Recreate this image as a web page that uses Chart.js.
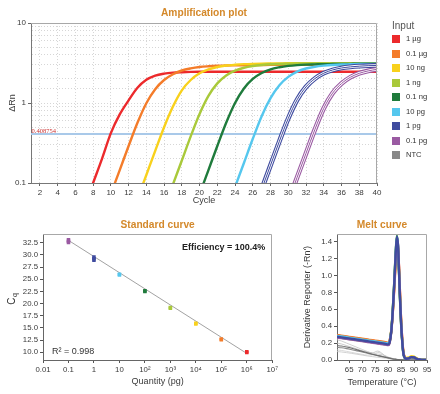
<!DOCTYPE html>
<html>
<head>
<meta charset="utf-8">
<script src="https://cdn.jsdelivr.net/npm/chart.js"></script>
<style>
  body { margin: 0; background: #fff; font-family: "Liberation Sans", Arial, sans-serif; }
  #wrap { position: relative; width: 440px; height: 394px; overflow: hidden; }
  canvas { position: absolute; }
  #legend { position: absolute; left: 0; top: 0; color: #333; }
  #legend .ttl { position: absolute; left: 392px; top: 20px; font-size: 10px; color: #555; white-space: nowrap; }
  #legend .box { position: absolute; left: 392px; width: 8px; height: 8px; }
  #legend .lab { position: absolute; left: 406px; font-size: 7.6px; line-height: 10px; white-space: nowrap; }
</style>
</head>
<body>
<div id="wrap">
  <canvas id="amp" width="440" height="210" style="left:0;top:0"></canvas>
  <canvas id="std" width="280" height="184" style="left:0;top:210px"></canvas>
  <canvas id="melt" width="160" height="184" style="left:280px;top:210px"></canvas>
  <div id="legend"></div>
</div>
<script>
// samples (legend order)
const sampleNames = ["1 µg", "0.1 µg", "10 ng", "1 ng", "0.1 ng", "10 pg", "1 pg", "0.1 pg", "NTC"];
const sampleColors = ["#ec2a2c", "#f47c2a", "#f8d11c", "#a9c93a", "#1f7b3c", "#55c7ee", "#3f4b9f", "#9a5aa2", "#888888"];

// amplification plot, ΔRn per cycle
const cycles = [1,2,3,4,5,6,7,8,9,10,11,12,13,14,15,16,17,18,19,20,21,22,23,24,25,26,27,28,29,30,31,32,33,34,35,36,37,38,39,40];
const threshold = 0.408754;
const ampRed = [null,null,null,null,null,null,0.05,0.1,0.2,0.42,0.72,1.08,1.55,1.95,2.2,2.33,2.4,2.43,2.45,2.46,2.46,2.46,2.46,2.46,2.46,2.46,2.46,2.46,2.46,2.46,2.46,2.46,2.46,2.46,2.46,2.46,2.46,2.46,2.46,2.46];
const ampOrange = [null,null,null,null,null,null,null,null,null,0.073,0.145,0.29,0.566,0.995,1.49,1.94,2.29,2.55,2.71,2.82,2.88,2.92,2.95,2.96,2.97,2.98,2.99,3.0,3.0,3.0,3.0,3.0,3.0,3.0,3.0,3.0,3.0,3.0,3.0,3.0];
const ampYellow = [null,null,null,null,null,null,null,null,null,null,null,null,0.063,0.126,0.252,0.498,0.903,1.44,1.94,2.35,2.63,2.82,2.94,3.01,3.06,3.09,3.11,3.12,3.13,3.14,3.14,3.14,3.14,3.14,3.15,3.15,3.15,3.15,3.15,3.15];
const ampLgreen = [null,null,null,null,null,null,null,null,null,null,null,null,null,null,null,0.048,0.096,0.191,0.383,0.731,1.23,1.76,2.21,2.54,2.76,2.9,2.99,3.05,3.08,3.1,3.12,3.13,3.14,3.14,3.14,3.14,3.14,3.14,3.14,3.14];
const ampDgreen = [null,null,null,null,null,null,null,null,null,null,null,null,null,null,null,null,null,null,0.036,0.0725,0.145,0.29,0.566,1.0,1.52,2.0,2.37,2.64,2.8,2.91,2.98,3.02,3.04,3.06,3.07,3.08,3.09,3.1,3.1,3.1];
const ampCyan = [null,null,null,null,null,null,null,null,null,null,null,null,null,null,null,null,null,null,null,null,null,null,0.0445,0.0893,0.178,0.357,0.685,1.15,1.67,2.12,2.47,2.7,2.84,2.93,2.99,3.03,3.05,3.07,3.08,3.09];
const ampBlue = [null,null,null,null,null,null,null,null,null,null,null,null,null,null,null,null,null,null,null,null,null,null,null,null,null,0.0416,0.0833,0.167,0.333,0.643,1.1,1.59,2.02,2.36,2.59,2.74,2.83,2.89,2.93,2.95];
const ampPurple = [null,null,null,null,null,null,null,null,null,null,null,null,null,null,null,null,null,null,null,null,null,null,null,null,null,null,null,null,0.0295,0.0589,0.118,0.235,0.467,0.86,1.33,1.75,2.1,2.35,2.52,2.64];
const ampSeries = [ampRed, ampOrange, ampYellow, ampLgreen, ampDgreen, ampCyan, ampBlue, ampPurple];

// standard curve
const stdQty = [1e6, 1e5, 1e4, 1e3, 100, 10, 1, 0.1];
const stdCq = [[9.95, 10.1], [12.55, 12.7], [15.8, 15.95], [19.05, 19.2], [22.5, 22.65], [25.9, 26.05], [28.9, 29.2, 29.55], [32.55, 32.8, 33.1]];
const fitX = [0.1, 1e6];
const fitY = [33.0, 9.75];
const stdTickValues = [0.01, 0.1, 1, 10, 100, 1e3, 1e4, 1e5, 1e6, 1e7];
const stdTickLabels = ["0.01", "0.1", "1", "10", "10²", "10³", "10⁴", "10⁵", "10⁶", "10⁷"];

// melt curve
const meltTemps = [60.3,62,64,66,68,70,72,74,76,78,79,80,80.6,81.2,81.8,82.4,83,83.4,83.8,84.2,84.6,85,85.5,86,87,88,89,90,91,92,93,95];
const meltRed = [0.29,0.283,0.274,0.265,0.256,0.247,0.238,0.229,0.22,0.211,0.206,0.2,0.23,0.34,0.55,0.85,1.18,1.32,1.32,1.12,0.8,0.5,0.24,0.08,0.02,0.022,0.032,0.028,0.014,0.005,0.002,0];
const meltOrange = [0.295,0.288,0.279,0.27,0.261,0.252,0.243,0.234,0.225,0.216,0.211,0.205,0.23,0.35,0.57,0.88,1.22,1.36,1.33,1.1,0.77,0.48,0.22,0.07,0.02,0.025,0.038,0.032,0.016,0.006,0.002,0];
const meltYellow = [0.275,0.268,0.259,0.25,0.241,0.232,0.223,0.214,0.205,0.196,0.191,0.185,0.21,0.33,0.57,0.9,1.25,1.4,1.34,1.08,0.75,0.46,0.21,0.07,0.025,0.03,0.045,0.04,0.02,0.008,0.003,0];
const meltLgreen = [0.28,0.273,0.264,0.255,0.246,0.237,0.228,0.219,0.21,0.201,0.196,0.19,0.22,0.34,0.59,0.93,1.3,1.45,1.36,1.05,0.72,0.44,0.2,0.06,0.015,0.02,0.035,0.03,0.015,0.006,0.002,0];
const meltDgreen = [0.27,0.263,0.254,0.245,0.236,0.227,0.218,0.209,0.2,0.191,0.186,0.18,0.21,0.34,0.6,0.95,1.32,1.47,1.35,1.03,0.7,0.42,0.19,0.055,0.015,0.02,0.033,0.028,0.014,0.005,0.002,0];
const meltCyan = [0.285,0.278,0.269,0.26,0.251,0.242,0.233,0.224,0.215,0.206,0.201,0.195,0.22,0.34,0.58,0.92,1.3,1.45,1.37,1.06,0.73,0.45,0.2,0.06,0.015,0.02,0.034,0.03,0.015,0.006,0.002,0];
const meltBlue = [0.275,0.268,0.259,0.25,0.241,0.232,0.223,0.214,0.205,0.196,0.191,0.185,0.21,0.33,0.58,0.92,1.3,1.46,1.37,1.05,0.72,0.44,0.2,0.06,0.015,0.02,0.034,0.03,0.015,0.006,0.002,0];
const meltPurple = [0.265,0.258,0.249,0.24,0.231,0.222,0.213,0.204,0.195,0.186,0.181,0.175,0.2,0.32,0.55,0.88,1.26,1.42,1.38,1.1,0.76,0.46,0.21,0.065,0.015,0.02,0.034,0.03,0.015,0.006,0.002,0];
const meltSeries = [meltRed, meltOrange, meltYellow, meltLgreen, meltDgreen, meltCyan, meltPurple, meltBlue];
const meltSeriesColors = ["#ec2a2c", "#f47c2a", "#f8d11c", "#a9c93a", "#1f7b3c", "#55c7ee", "#9a5aa2", "#3f4b9f"];
const ntcA = [0.17,0.165,0.153,0.138,0.12,0.102,0.085,0.068,0.052,0.038,0.031,0.024,0.02,0.016,0.012,0.009,0.007,0.006,0.005,0.004,0.003,0.002,0.001,0,0,0,0,0,0,0,0,0];
const ntcB = [0.15,0.145,0.135,0.122,0.108,0.094,0.08,0.066,0.053,0.04,0.034,0.028,0.024,0.02,0.016,0.012,0.009,0.007,0.006,0.005,0.004,0.003,0.002,0.001,0,0,0,0,0,0,0,0];
const ntcC = [0.24,0.225,0.2,0.175,0.15,0.125,0.1,0.08,0.07,0.06,0.05,0.035,0.028,0.022,0.017,0.013,0.01,0.008,0.006,0.005,0.004,0.003,0.002,0.001,0,0,0,0,0,0,0,0];
const ntcD = [0.2,0.19,0.17,0.15,0.13,0.11,0.095,0.085,0.105,0.07,0.045,0.03,0.024,0.018,0.014,0.01,0.008,0.006,0.005,0.004,0.003,0.002,0.001,0,0,0,0,0,0,0,0,0];
const ntcE = [0.12,0.113,0.102,0.09,0.078,0.067,0.058,0.06,0.09,0.065,0.04,0.025,0.02,0.015,0.012,0.009,0.007,0.005,0.004,0.003,0.002,0.001,0,0,0,0,0,0,0,0,0,0];
const ntcF = [0.1,0.095,0.087,0.078,0.068,0.058,0.048,0.04,0.032,0.025,0.02,0.016,0.013,0.01,0.008,0.006,0.005,0.004,0.003,0.002,0.001,0,0,0,0,0,0,0,0,0,0,0];
const ntcSeries = [ntcC, ntcD, ntcE, ntcF, ntcB, ntcA];
const ntcColors = ["#c4c4c4", "#bdbdbd", "#cfcfcf", "#c8c8c8", "#8a8a8a", "#6e6e6e"];

Chart.defaults.font.family = '"Liberation Sans", Arial, sans-serif';
Chart.defaults.color = "#3a3a3a";

const titleColor = "#d4892b";
const tickFont = { size: 7.8 };

// draws the top and right sides of the plot box
const framePlugin = {
  id: "frame",
  afterDatasetsDraw(chart) {
    const { ctx, chartArea: a } = chart;
    const t = Math.round(a.top) + 0.5, r = Math.round(a.right) - 0.5;
    ctx.save();
    ctx.strokeStyle = "#a8a8a8";
    ctx.lineWidth = 1;
    ctx.beginPath();
    ctx.moveTo(a.left, t);
    ctx.lineTo(r, t);
    ctx.lineTo(r, a.bottom);
    ctx.stroke();
    ctx.restore();
  }
};

// give each dataset a paint order: first in the list is painted first
function paintOrder(list) {
  list.forEach((d, i) => { d.order = list.length - i; });
  return list;
}

// ---------- amplification plot ----------
const ampSets = [{
  data: [{ x: 1, y: threshold }, { x: 40, y: threshold }],
  borderColor: "#a9c9e9", borderWidth: 2
}];
ampSeries.forEach((vals, i) => {
  const pts = vals.map((v, k) => ({ x: cycles[k], y: v }));
  const col = sampleColors[i];
  if (i >= 6) {
    ampSets.push({ data: pts, borderColor: col, borderWidth: 4.8 });
    ampSets.push({ data: pts, borderColor: "#ffffff", borderWidth: 2.6 });
    ampSets.push({ data: pts, borderColor: col, borderWidth: 1 });
  } else {
    ampSets.push({ data: pts, borderColor: col, borderWidth: 2.4 });
  }
});
ampSets.forEach(d => { d.pointRadius = 0; d.fill = false; d.cubicInterpolationMode = "monotone"; });

function isDecade(v) {
  const l = Math.log10(v);
  return Math.abs(l - Math.round(l)) < 1e-6;
}

new Chart(document.getElementById("amp"), {
  type: "line",
  data: { datasets: paintOrder(ampSets) },
  options: {
    responsive: false,
    animation: false,
    layout: { padding: { left: 0, right: 63, top: 0, bottom: 0 } },
    plugins: {
      legend: { display: false },
      tooltip: { enabled: false },
      title: {
        display: true, text: "Amplification plot", fullSize: false,
        color: titleColor, font: { size: 10.2, weight: "bold" },
        padding: { top: 7.4, bottom: 3.4 }
      }
    },
    scales: {
      x: {
        type: "linear", min: 1, max: 40,
        afterFit: s => { s.height = 27; },
        ticks: { stepSize: 2, includeBounds: false, autoSkip: false, maxRotation: 0, padding: 2, font: { size: 8 } },
        grid: { color: "#d6d6d6", tickColor: "#666", tickLength: 3 },
        border: { color: "#777", dash: [1, 2] },
        title: { display: true, text: "Cycle", font: { size: 9 }, padding: { top: 0, bottom: 4 } }
      },
      y: {
        type: "logarithmic", min: 0.1, max: 10,
        afterFit: s => { s.width = 31; },
        ticks: {
          autoSkip: false, padding: 2, font: { size: 8 },
          callback: v => isDecade(v) ? String(+Number(v).toPrecision(3)) : ""
        },
        grid: {
          color: "#d6d6d6", tickLength: 3,
          tickColor: c => (c.tick && isDecade(c.tick.value)) ? "#666" : "rgba(0,0,0,0)"
        },
        border: { color: "#777", dash: [1, 2] },
        title: { display: true, text: "ΔRn", font: { size: 9 }, padding: { top: 7, bottom: 0 } }
      }
    }
  },
  plugins: [framePlugin, {
    id: "thresholdLabel",
    afterDatasetsDraw(chart) {
      const { ctx, chartArea: a, scales } = chart;
      const y = scales.y.getPixelForValue(threshold);
      ctx.save();
      ctx.font = '6.5px "Liberation Serif", "Times New Roman", serif';
      ctx.fillStyle = "#cc3333";
      ctx.textBaseline = "alphabetic";
      ctx.fillText(String(threshold), a.left + 0.5, y - 0.8);
      ctx.restore();
    }
  }]
});

// legend
const legend = document.getElementById("legend");
legend.innerHTML = '<div class="ttl">Input</div>' + sampleNames.map((n, i) => {
  const cy = 39 + i * 14.55;
  return '<div class="box" style="top:' + (cy - 4) + 'px;background:' + sampleColors[i] + '"></div>' +
         '<div class="lab" style="top:' + (cy - 5) + 'px">' + n + '</div>';
}).join("");

// ---------- standard curve ----------
const stdSets = [{
  data: fitX.map((x, i) => ({ x: x, y: fitY[i] })),
  showLine: true, borderColor: "#8a8a8a", borderWidth: 0.8, pointRadius: 0
}];
stdCq.forEach((reps, i) => {
  stdSets.push({
    data: reps.map(v => ({ x: stdQty[i], y: v })),
    pointStyle: "rect", pointRadius: 2.5, pointBorderWidth: 0,
    backgroundColor: sampleColors[i], borderColor: sampleColors[i]
  });
});

new Chart(document.getElementById("std"), {
  type: "scatter",
  data: { datasets: paintOrder(stdSets) },
  options: {
    responsive: false,
    animation: false,
    layout: { padding: { left: 0, right: 7, top: 0, bottom: 0 } },
    plugins: {
      legend: { display: false },
      tooltip: { enabled: false },
      title: {
        display: true, text: "Standard curve", fullSize: false,
        color: titleColor, font: { size: 10.2, weight: "bold" },
        padding: { top: 9, bottom: 2.8 }
      }
    },
    scales: {
      x: {
        type: "logarithmic", min: 0.01, max: 1e7,
        afterBuildTicks: s => { s.ticks = stdTickValues.map(v => ({ value: v })); },
        afterFit: s => { s.height = 34; },
        ticks: { autoSkip: false, maxRotation: 0, padding: 2, font: tickFont, callback: (v, i) => stdTickLabels[i] },
        grid: { drawOnChartArea: false, tickColor: "#555", tickLength: 3 },
        border: { color: "#666" },
        title: { display: true, text: "Quantity (pg)", font: { size: 9 }, padding: { top: 0, bottom: 6.6 } }
      },
      y: {
        type: "linear", min: 8.4, max: 34.3,
        afterFit: s => { s.width = 43; },
        ticks: { stepSize: 2.5, includeBounds: false, autoSkip: false, padding: 2, font: tickFont, callback: v => Number(v).toFixed(1) },
        grid: { drawOnChartArea: false, tickColor: "#555", tickLength: 3 },
        border: { color: "#666" }
      }
    }
  },
  plugins: [framePlugin, {
    id: "stdText",
    afterDraw(chart) {
      const { ctx, chartArea: a } = chart;
      ctx.save();
      ctx.fillStyle = "#222";
      ctx.textBaseline = "middle";
      ctx.font = 'bold 9px "Liberation Sans", Arial, sans-serif';
      ctx.textAlign = "right";
      ctx.fillText("Efficiency = 100.4%", a.right - 7, a.top + 13);
      ctx.font = '9px "Liberation Sans", Arial, sans-serif';
      ctx.textAlign = "left";
      ctx.fillStyle = "#333";
      ctx.fillText("R² = 0.998", a.left + 9, a.bottom - 8);
      // axis title C with subscript q
      ctx.translate(12, (a.top + a.bottom) / 2 + 2);
      ctx.rotate(-Math.PI / 2);
      ctx.font = '10px "Liberation Sans", Arial, sans-serif';
      const w = ctx.measureText("C").width;
      ctx.fillText("C", -w / 2 - 2, 0);
      ctx.font = '7px "Liberation Sans", Arial, sans-serif';
      ctx.fillText("q", w / 2 - 1.5, 3);
      ctx.restore();
    }
  }]
});

// ---------- melt curve ----------
const meltSets = [];
ntcSeries.forEach((vals, i) => {
  meltSets.push({ data: vals.map((v, k) => ({ x: meltTemps[k], y: v })), borderColor: ntcColors[i], borderWidth: i >= 4 ? 1.1 : 0.8 });
});
meltSeries.forEach((vals, i) => {
  meltSets.push({ data: vals.map((v, k) => ({ x: meltTemps[k], y: v })), borderColor: meltSeriesColors[i], borderWidth: 2.3 });
});
meltSets.forEach(d => { d.pointRadius = 0; d.fill = false; d.cubicInterpolationMode = "monotone"; });

new Chart(document.getElementById("melt"), {
  type: "line",
  data: { datasets: paintOrder(meltSets) },
  options: {
    responsive: false,
    animation: false,
    layout: { padding: { left: 0, right: 13, top: 0, bottom: 0 } },
    plugins: {
      legend: { display: false },
      tooltip: { enabled: false },
      title: {
        display: true, text: "Melt curve", fullSize: false,
        color: titleColor, font: { size: 10.2, weight: "bold" },
        padding: { top: 9, bottom: 2.8 }
      }
    },
    scales: {
      x: {
        type: "linear", min: 60.3, max: 95,
        afterFit: s => { s.height = 34; },
        ticks: { stepSize: 5, includeBounds: false, autoSkip: false, maxRotation: 0, padding: 2, font: tickFont },
        grid: { drawOnChartArea: false, tickColor: "#555", tickLength: 3 },
        border: { color: "#666" },
        title: { display: true, text: "Temperature (°C)", font: { size: 9 }, padding: { top: 0, bottom: 5.6 } }
      },
      y: {
        type: "linear", min: 0, max: 1.49,
        afterFit: s => { s.width = 57; },
        ticks: { stepSize: 0.2, includeBounds: false, autoSkip: false, padding: 2, font: tickFont, callback: v => Number(v).toFixed(1) },
        grid: { drawOnChartArea: false, tickColor: "#555", tickLength: 3 },
        border: { color: "#666" },
        title: { display: true, text: "Derivative Reporter (-Rn')", font: { size: 9 }, padding: { top: 21.9, bottom: 0 } }
      }
    }
  },
  plugins: [framePlugin]
});
</script>
</body>
</html>
